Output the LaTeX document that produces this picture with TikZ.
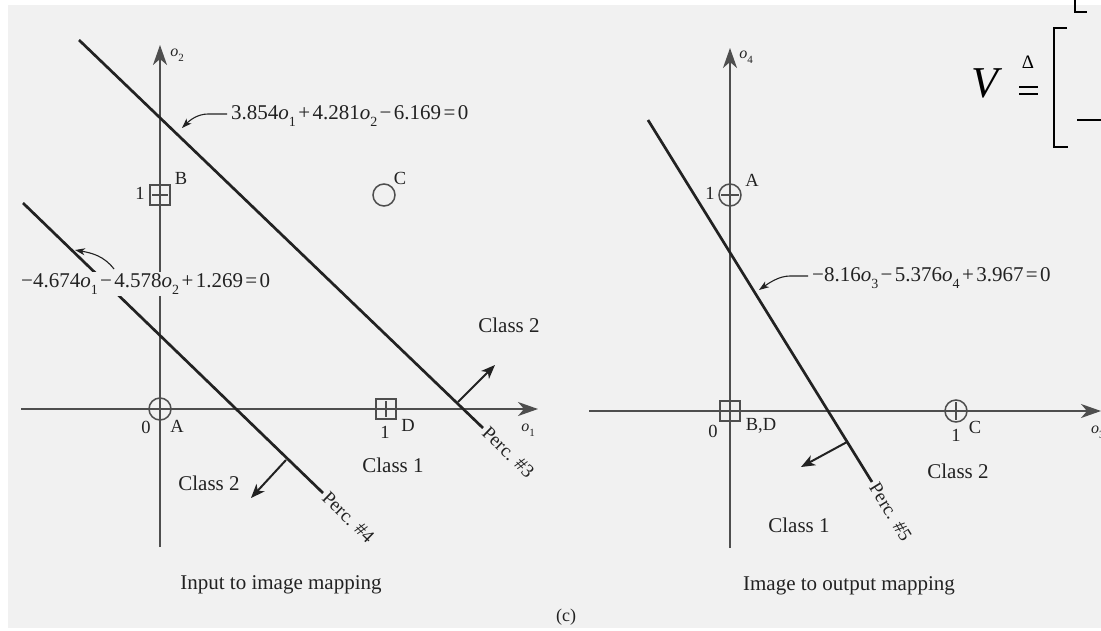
\documentclass[tikz,border=0pt]{standalone}
\usepackage{fontspec}
\setmainfont{Liberation Serif}
\usetikzlibrary{arrows.meta,calc}
\definecolor{bg}{RGB}{241,241,241}
\definecolor{ink}{RGB}{34,34,34}
\definecolor{axisc}{RGB}{78,78,78}
\newcommand\sbs[1]{\raisebox{-0.3em}{\fontsize{14}{14}\selectfont #1}}
\newcommand\oo[1]{\textit{o}\sbs{#1}}
\newcommand\op[1]{\hspace{2.4pt}#1\hspace{2.4pt}}
\newcommand\axlab[1]{{\fontsize{16}{18}\selectfont\textit{o}\raisebox{-0.3em}{\fontsize{11}{11}\selectfont #1}}}
\begin{document}
\begin{tikzpicture}[x=1pt,y=-1pt,
  every node/.style={font=\fontsize{21}{25}\selectfont, text=ink, inner sep=1pt},
  axis/.style={draw=axisc, line width=1.5pt, -{Stealth[length=20pt,width=14pt,inset=6pt]}},
  perc/.style={draw=ink, line width=2.7pt},
  normal/.style={draw=ink, line width=2pt, -{Stealth[length=14pt,width=11pt,inset=4pt]}},
  lead/.style={draw=ink, line width=1.1pt, -{Stealth[length=10pt,width=7pt,inset=3pt]}},
  circm/.style={circle, draw=axisc, line width=1.5pt, minimum size=22pt, inner sep=0pt},
  sqm/.style={rectangle, draw=axisc, line width=1.5pt, minimum size=20pt, inner sep=0pt},
  tick/.style={draw=axisc, line width=1.3pt},
  small/.style={font=\fontsize{18.5}{22}\selectfont},
  eqlab/.style={font=\fontsize{21}{24}\selectfont, fill=bg, inner sep=2pt, anchor=west},
  perclab/.style={font=\fontsize{19}{22}\selectfont, anchor=west, inner sep=3pt},
  ]
\useasboundingbox (0,0) rectangle (1101,630);
\fill[white] (0,0) rectangle (1101,630);
\fill[bg] (8,5) rectangle (1101,628);

% ---------------- left plot ----------------
\coordinate (o1s) at (21,409);
\coordinate (o1e) at (538,409);
\coordinate (o2s) at (160,547);
\coordinate (o2e) at (160,45);
\draw[axis] (o1s) -- (o1e);
\draw[axis] (o2s) -- (o2e);
\node at (528,430) {\axlab{1}};
\node at (177,55) {\axlab{2}};

\node[circm] (A1) at (160,409) {};
\node[sqm] (D1) at (386,409) {};
\draw[tick] ($(D1.north)+(0,3)$) -- ($(D1.south)+(0,-3)$);
\node[sqm] (B1) at (160,195) {};
\draw[tick] ($(B1.west)+(3,0)$) -- ($(B1.east)+(-3,0)$);
\node[circm] (C1) at (384,195) {};

\node[small] (l0a) at (146,427) {0};
\node[small] (lA1) at (177,426) {A};
\node[small] (l1d) at (385,432) {1};
\node[small] (lD1) at (408,425) {D};
\node[small] (l1b) at (140,193) {1};
\node[small] (lB1) at (181,178) {B};
\node[small] (lC1) at (400,178) {C};

% perceptron 3
\coordinate (p3s) at (79,40);
\coordinate (p3e) at (483,428);
\draw[perc] (p3s) -- (p3e);
\node[perclab, rotate=-43.85] (pl3) at (p3e) {Perc. \#3};
\coordinate (n3s) at (458,402);
\coordinate (n3e) at (495,365);
\draw[normal] (n3s) -- (n3e);
\node (c2a) at (509,325) {Class 2};
\node (c1a) at (393,465) {Class 1};

% perceptron 4
\coordinate (p4s) at (23,203);
\coordinate (p4e) at (323,493);
\draw[perc] (p4s) -- (p4e);
\node[perclab, rotate=-44] (pl4) at (p4e) {Perc. \#4};
\coordinate (n4s) at (286,460);
\coordinate (n4e) at (251,498);
\draw[normal] (n4s) -- (n4e);
\node (c2b) at (209,483) {Class 2};

% equations
\node[eqlab] (eq1) at (229,116) {3.854\oo{1}\op{+}4.281\oo{2}\op{−}6.169\op{=}0};
\coordinate (q1) at (182,128);
\draw[lead] ($(eq1.west)+(-2,-2)$) -- (208,114) .. controls (197,114) and (189,121) .. (q1);

\node[eqlab] (eq2) at (19,284) {−4.674\oo{1}\op{−}4.578\oo{2}\op{+}1.269\op{=}0};
\coordinate (q2) at (75,250);
\draw[lead] (114,269) .. controls (104,256) and (92,253) .. (q2);

\node (cap1) at (281,585) {Input to image mapping};

% ---------------- right plot ----------------
\coordinate (o3s) at (589,411);
\coordinate (o3e) at (1101,411);
\coordinate (o4s) at (730,548);
\coordinate (o4e) at (730,48);
\draw[axis] (o3s) -- (o3e);
\draw[axis] (o4s) -- (o4e);
\node at (746,57) {\axlab{4}};
\node[anchor=west] at (1090,432) {\axlab{3}};

\node[circm] (A2) at (730,195) {};
\draw[tick] ($(A2.west)+(3,0)$) -- ($(A2.east)+(-3,0)$);
\node[sqm] (BD) at (730,411) {};
\node[circm] (C2) at (956,411) {};
\draw[tick] ($(C2.north)+(0,3)$) -- ($(C2.south)+(0,-3)$);

\node[small] (l1a2) at (710,193) {1};
\node[small] (lA2) at (752,180) {A};
\node[small] (l0bd) at (713,431) {0};
\node[small] (lBD) at (761,426) {B,D};
\node[small] (l1c2) at (956,435) {1};
\node[small] (lC2) at (975,427) {C};

% perceptron 5
\coordinate (p5s) at (648,120);
\coordinate (p5e) at (872,482);
\draw[perc] (p5s) -- (p5e);
\node[perclab, rotate=-58.25] (pl5) at (p5e) {Perc. \#5};
\coordinate (n5s) at (847,442);
\coordinate (n5e) at (801,467);
\draw[normal] (n5s) -- (n5e);
\node (c2c) at (958,471) {Class 2};
\node (c1c) at (799,525) {Class 1};

\node[eqlab] (eq3) at (810,278) {−8.16\oo{3}\op{−}5.376\oo{4}\op{+}3.967\op{=}0};
\coordinate (q3) at (759,290);
\draw[lead] ($(eq3.west)+(-2,-2)$) -- (790,276) .. controls (779,276) and (769,283) .. (q3);

\node (cap2) at (849,586) {Image to output mapping};
\node[font=\fontsize{18}{20}\selectfont] (fig) at (566,617) {(c)};

% ---------------- fragment of the overlapping slide ----------------
\node[font=\fontsize{44}{48}\selectfont, text=black] (V) at (987,83) {\textit{V}};
\node[font=\fontsize{19}{20}\selectfont, text=black] (delta) at (1028,62) {Δ};
\draw[black, line width=1.6pt] (1019,87) -- (1038,87);
\draw[black, line width=1.6pt] (1019,94) -- (1038,94);
\draw[black, line width=2.8pt] (1067,28) -- (1054,28) -- (1054,147) -- (1068,147);
\draw[black, line width=2pt] (1077,120) -- (1102,120);
\draw[black, line width=2.8pt] (1075,-2) -- (1075,12) -- (1087,12);
\end{tikzpicture}
\end{document}
